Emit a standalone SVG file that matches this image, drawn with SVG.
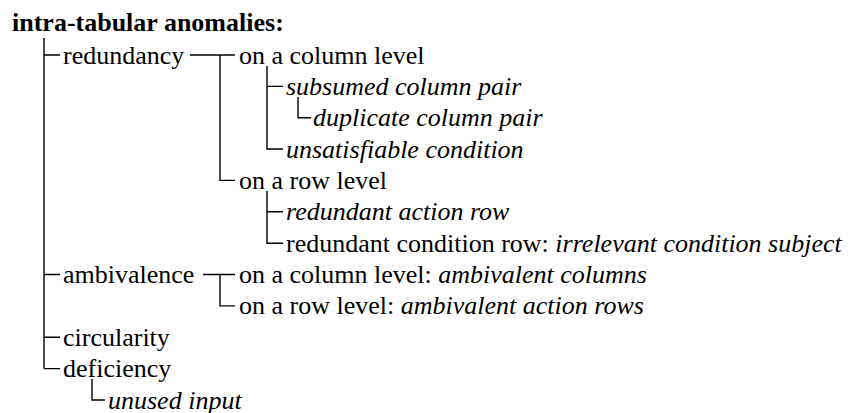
<svg xmlns="http://www.w3.org/2000/svg" width="861" height="413" viewBox="0 0 861 413">
  <style>
    .lbl { font-size: 26px; fill: #000; }
    .title { font-weight: bold; }
    .it { font-style: italic; }
    .conn { fill: none; stroke: #000; stroke-width: 1.4; }
  </style>
  <rect width="861" height="413" fill="#fff"/>

  <!-- tree connectors -->
  <g id="connectors" class="conn">
    <!-- root trunk and first-level branches -->
    <path d="M44 38 V368.6 M44 55 H60 M44 274.5 H60 M44 337.3 H60 M44 368.6 H60"/>
    <!-- redundancy split -->
    <path d="M190 55 H235 M220 55 V180.4 H235"/>
    <!-- column-level children -->
    <path d="M267 66 V149 H283 M267 86.4 H283"/>
    <path d="M298 97 V117.8 H311"/>
    <!-- row-level children -->
    <path d="M267 191 V243.2 H283 M267 211.8 H283"/>
    <!-- ambivalence split -->
    <path d="M203 274.5 H235 M220 274.5 V305.9 H235"/>
    <!-- deficiency child -->
    <path d="M92 379 V400 H105"/>
  </g>

  <g class="lbl" font-family="'Liberation Serif', 'Times New Roman', Tinos, 'DejaVu Serif', serif">
    <g id="title"><text class="title" x="12" y="31">intra-tabular anomalies:</text></g>

    <g id="redundancy"><text x="63" y="63.5">redundancy</text></g>
    <g id="red-column"><text x="239" y="63.5">on a column level</text></g>
    <g id="subsumed"><text class="it" x="286" y="94.9">subsumed column pair</text></g>
    <g id="duplicate"><text class="it" x="313" y="126.3">duplicate column pair</text></g>
    <g id="unsatisfiable"><text class="it" x="286" y="157.7">unsatisfiable condition</text></g>
    <g id="red-row"><text x="239" y="188.9">on a row level</text></g>
    <g id="redundant-action"><text class="it" x="286" y="220.3">redundant action row</text></g>
    <g id="redundant-condition"><text x="286" y="251.7">redundant condition row: <tspan class="it">irrelevant condition subject</tspan></text></g>

    <g id="ambivalence"><text x="63" y="283">ambivalence</text></g>
    <g id="amb-column"><text x="239" y="283">on a column level: <tspan class="it">ambivalent columns</tspan></text></g>
    <g id="amb-row"><text x="239" y="314.4">on a row level: <tspan class="it">ambivalent action rows</tspan></text></g>

    <g id="circularity"><text x="63" y="345.8">circularity</text></g>
    <g id="deficiency"><text x="63" y="377.1">deficiency</text></g>
    <g id="unused-input"><text class="it" x="108" y="408.5">unused input</text></g>
  </g>
</svg>
